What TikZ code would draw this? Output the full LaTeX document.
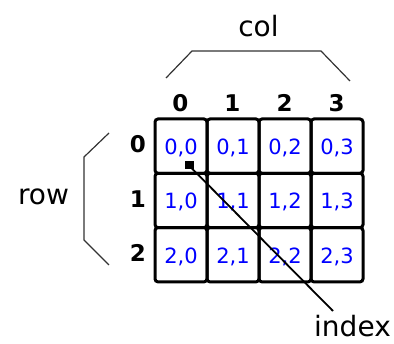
\documentclass[tikz,border=0pt]{standalone}
\usepackage{fontspec}
\setmainfont{DejaVu Sans}
\usetikzlibrary{calc}
\tikzset{
  cellbox/.style={draw=black, line width=3pt, rounded corners=3pt},
  celltext/.style={anchor=base, text=blue, inner sep=0pt, font=\fontsize{21}{23}\selectfont},
  headtext/.style={anchor=base, inner sep=0pt, font=\fontsize{23}{25}\selectfont\bfseries},
  bigtext/.style={anchor=base, inner sep=0pt, font=\fontsize{28}{30}\selectfont},
  bracketline/.style={draw=black!80, line width=1.2pt},
  pointer/.style={draw=black, line width=1.8pt}
}
\begin{document}
\begin{tikzpicture}[x=1pt,y=-1pt]
\useasboundingbox (0,0) rectangle (394,344);
% grid cells
\foreach \r in {0,1,2}{
  \foreach \c in {0,1,2,3}{
    \pgfmathsetmacro{\xa}{155+52*\c}
    \pgfmathsetmacro{\ya}{119+54.3*\r}
    \draw[cellbox] (\xa,\ya) rectangle ++(52,54.3);
    \node[celltext] (cell\r\c) at ({\xa+26},{\ya+27.15+8.5}) {\r,\c};
  }
}
% column headers
\foreach \c in {0,1,2,3}{
  \node[headtext] (colh\c) at ({180.5+52*\c},112) {\c};
}
% row headers
\foreach \r in {0,1,2}{
  \node[headtext] (rowh\r) at (138,{153+54.3*\r}) {\r};
}
% labels
\node[bigtext] (col) at (258.5,37) {col};
\node[bigtext] (row) at (43.5,205) {row};
\node[bigtext] (index) at (352.5,337) {index};
% brackets
\coordinate (cb1) at (166,78);
\coordinate (cb2) at (192,51);
\coordinate (cb3) at (321,51);
\coordinate (cb4) at (350,81);
\draw[bracketline] (cb1) -- (cb2) -- (cb3) -- (cb4);
\coordinate (rb1) at (109,133);
\coordinate (rb2) at (84,157);
\coordinate (rb3) at (84,240);
\coordinate (rb4) at (109,265);
\draw[bracketline] (rb1) -- (rb2) -- (rb3) -- (rb4);
% index pointer
\node[fill=black, minimum width=9pt, minimum height=8pt, inner sep=0pt] (sq) at (189,165.5) {};
\coordinate (tail) at (333,311);
\draw[pointer] (tail) -- (sq.center);
\end{tikzpicture}
\end{document}
